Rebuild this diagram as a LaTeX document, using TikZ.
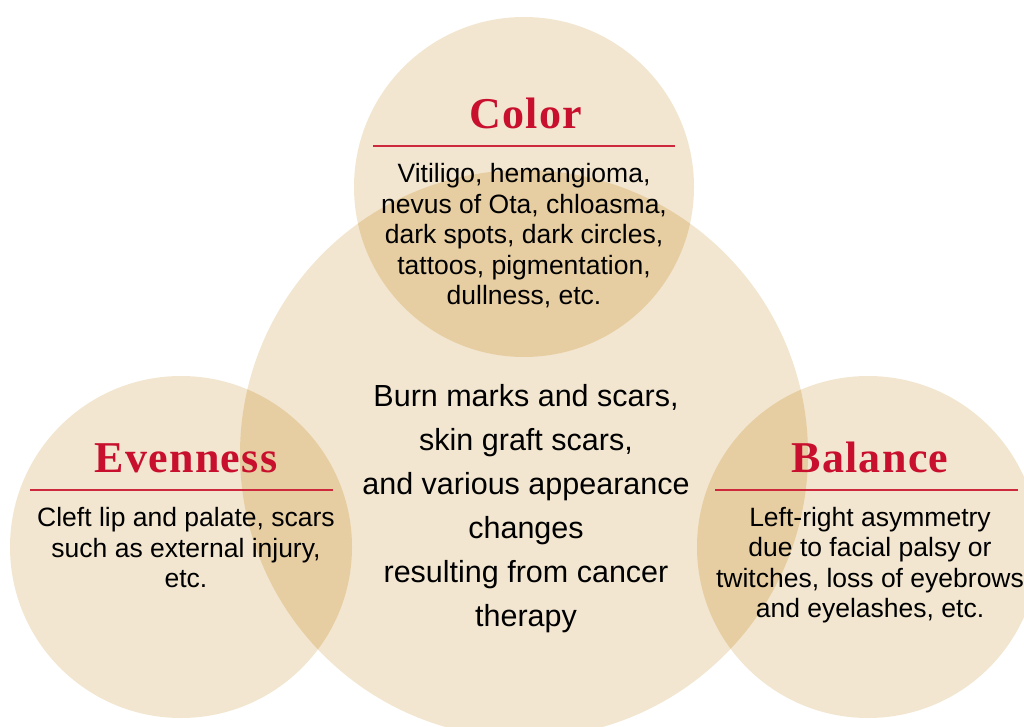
\documentclass[tikz,border=0pt]{standalone}
\usepackage{fontspec}
\setmainfont{Liberation Sans}
\newfontfamily\titlefont[LetterSpace=3]{Liberation Serif}
\definecolor{lightbeige}{RGB}{242,230,208}
\definecolor{darkbeige}{RGB}{231,206,162}
\definecolor{titlered}{RGB}{200,16,46}
\definecolor{rulered}{RGB}{205,40,60}
\tikzset{
  titletext/.style={anchor=base, text=titlered, font={\titlefont\bfseries\fontsize{44}{50}\selectfont}, inner sep=0pt},
  bodytext/.style={align=center, font={\fontsize{26.5}{30.5}\selectfont}, inner sep=0pt},
  centertext/.style={align=center, font={\fontsize{30.5}{44}\selectfont}, inner sep=0pt},
  redrule/.style={draw=rulered, line width=1.8pt}
}
\begin{document}
\begin{tikzpicture}[x=1pt,y=-1pt]
\useasboundingbox (0,0) rectangle (1024,727);
\clip (0,0) rectangle (1024,727);
% circles
\fill[lightbeige] (524,454) circle (284);
\fill[lightbeige] (524,187) circle (170);
\fill[lightbeige] (181,547) circle (171);
\fill[lightbeige] (868,547) circle (171);
\begin{scope}
  \clip (524,454) circle (284);
  \fill[darkbeige] (524,187) circle (170);
  \fill[darkbeige] (181,547) circle (171);
  \fill[darkbeige] (868,547) circle (171);
\end{scope}
% Color
\node[titletext] (colorT) at (526,129) {Color};
\coordinate (colorL) at (373,146);
\coordinate (colorR) at (675,146);
\draw[redrule] (colorL) -- (colorR);
\node[bodytext] (colorB) at (524,236) {Vitiligo, hemangioma,\\nevus of Ota, chloasma,\\dark spots, dark circles,\\tattoos, pigmentation,\\dullness, etc.};
% Evenness
\node[titletext] (evenT) at (186,472) {Evenness};
\coordinate (evenL) at (30,490);
\coordinate (evenR) at (333,490);
\draw[redrule] (evenL) -- (evenR);
\node[bodytext] (evenB) at (186,548) {Cleft lip and palate, scars\\such as external injury,\\etc.};
% Balance
\node[titletext] (balT) at (870,472) {Balance};
\coordinate (balL) at (715,490);
\coordinate (balR) at (1018,490);
\draw[redrule] (balL) -- (balR);
\node[bodytext] (balB) at (870,565) {Left-right asymmetry\\due to facial palsy or\\twitches, loss of eyebrows\\and eyelashes, etc.};
% center
\node[centertext] (centerB) at (526,509) {Burn marks and scars,\\skin graft scars,\\and various appearance\\changes\\resulting from cancer\\therapy};
\end{tikzpicture}
\end{document}
